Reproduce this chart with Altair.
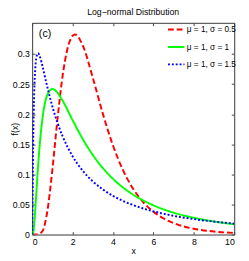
import altair as alt
import pandas as pd

labels = ["μ = 1, σ = 0.5", "μ = 1, σ = 1", "μ = 1, σ = 1.5"]
colors = ["#ff0000", "#00ff00", "#0000ff"]
dashes = [[6, 3], [1, 0], [2, 2]]

x_s05 = [0, 0.25, 0.5, 0.75, 1, 1.25, 1.5, 1.75, 2, 2.117, 2.5, 3, 3.5, 4, 4.5, 5, 5.5, 6, 7, 8, 9, 10]
y_s05 = [0, 0.0000, 0.0052, 0.0386, 0.1080, 0.1909, 0.2623, 0.3094, 0.3305, 0.3326, 0.3147, 0.2608,
         0.2006, 0.1480, 0.1067, 0.0759, 0.0537, 0.0380, 0.0190, 0.0097, 0.0050, 0.0027]

x_s10 = [0, 0.05, 0.1, 0.2, 0.3, 0.4, 0.5, 0.75, 1, 1.25, 1.5, 2, 2.5, 3, 3.5, 4, 4.5, 5, 6, 7, 8, 9, 10]
y_s10 = [0, 0.0027, 0.0171, 0.0663, 0.1172, 0.1590, 0.1903, 0.2322, 0.2420, 0.2360, 0.2229, 0.1903,
         0.1590, 0.1323, 0.1104, 0.0926, 0.0781, 0.0663, 0.0486, 0.0364, 0.0279, 0.0217, 0.0171]

x_s15 = [0, 0.01, 0.02, 0.05, 0.1, 0.15, 0.2, 0.29, 0.4, 0.5, 0.75, 1, 1.25, 1.5, 2, 2.5, 3, 3.5, 4,
         5, 6, 7, 8, 9, 10]
y_s15 = [0, 0.0247, 0.0624, 0.1531, 0.2356, 0.2745, 0.2928, 0.3014, 0.2940, 0.2813, 0.2453, 0.2130,
         0.1861, 0.1639, 0.1302, 0.1062, 0.0885, 0.0749, 0.0643, 0.0490, 0.0386, 0.0311, 0.0257,
         0.0215, 0.0182]

x_ticks = [0, 2, 4, 6, 8, 10]
y_ticks = [0, 0.05, 0.1, 0.15, 0.2, 0.25, 0.3]

rows = []
for lab, xs, ys in zip(labels, [x_s05, x_s10, x_s15], [y_s05, y_s10, y_s15]):
    for xv, yv in zip(xs, ys):
        rows.append({"x": xv, "f": yv, "s": lab})
df = pd.DataFrame(rows)

xscale = alt.Scale(domain=[0, 10], nice=False, zero=False)
yscale = alt.Scale(domain=[0, 0.352], nice=False)

leg = alt.Legend(orient="none", legendX=139, legendY=-3, title=None, symbolType="stroke",
                 symbolSize=290, symbolStrokeWidth=2, labelFontSize=8.5, labelOffset=1,
                 rowPadding=3, padding=0, labelColor="black")

lines = alt.Chart(df).mark_line(strokeWidth=2, interpolate="monotone", clip=True).encode(
    x=alt.X("x:Q", scale=xscale,
            axis=alt.Axis(orient="bottom", values=x_ticks, title="x", offset=-3, tickSize=3,
                          domain=False, grid=False, labelPadding=3, labelFontSize=9,
                          titleFontSize=9, titleFontWeight="normal", titlePadding=1,
                          labelColor="black", titleColor="black", tickColor="#444")),
    y=alt.Y("f:Q", scale=yscale,
            axis=alt.Axis(orient="left", values=y_ticks, format="~g", title="f(x)", offset=-3,
                          tickSize=3, domain=False, grid=False, labelPadding=3, labelFontSize=9,
                          titleFontSize=9, titleFontWeight="normal", titleX=-21,
                          titleBaseline="middle",
                          labelColor="black", titleColor="black", tickColor="#444")),
    color=alt.Color("s:N", scale=alt.Scale(domain=labels, range=colors), legend=leg),
    strokeDash=alt.StrokeDash("s:N", scale=alt.Scale(domain=labels, range=dashes), legend=leg),
)

ticks2 = alt.Chart(df).mark_point(opacity=0).encode(
    x=alt.X("x:Q", scale=xscale,
            axis=alt.Axis(orient="top", values=x_ticks, title=None, offset=-3, tickSize=3,
                          domain=False, grid=False, labels=False, tickColor="#444")),
    y=alt.Y("f:Q", scale=yscale,
            axis=alt.Axis(orient="right", values=y_ticks, title=None, offset=-3, tickSize=3,
                          domain=False, grid=False, labels=False, tickColor="#444")),
)

label_df = pd.DataFrame({"t": ["(c)"]})
panel = alt.Chart(label_df).mark_text(align="left", baseline="middle", fontSize=11,
                                      color="black").encode(
    x=alt.X(datum=0.33, scale=xscale, axis=None),
    y=alt.Y(datum=0.333, scale=yscale, axis=None),
    text="t:N")

chart = alt.layer(lines, ticks2, panel).resolve_axis(x="independent", y="independent").properties(
    width=209, height=219,
    title=alt.TitleParams("Log−normal Distribution", fontSize=9, fontWeight="normal",
                          offset=3, color="black"),
    autosize=alt.AutoSizeParams(type="none"),
    padding={"left": 25, "top": 11, "right": 7, "bottom": 22},
).configure(font="Liberation Sans").configure_view(stroke="#333", strokeWidth=1)

chart.save("out.html", embed_options={"renderer": "svg", "actions": False})
